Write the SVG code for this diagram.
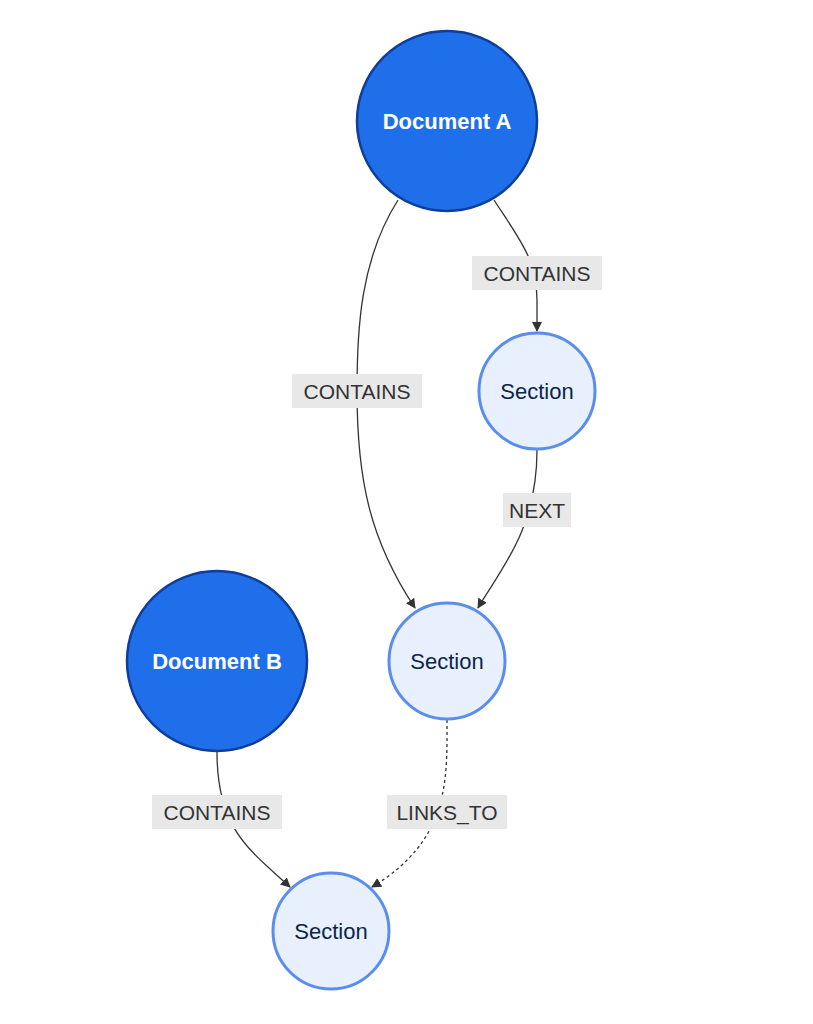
<svg xmlns="http://www.w3.org/2000/svg" width="813" height="1024" viewBox="0 0 813 1024">
<style>
.doc{fill:#1f6feb;stroke:#0f3d99;stroke-width:2.5}
.sec{fill:#e8f0fe;stroke:#5b8def;stroke-width:3}
.dt{font-family:"Liberation Sans",Arial,sans-serif;font-size:22px;font-weight:bold;fill:#fff;text-anchor:middle;dominant-baseline:central}
.st{font-family:"Liberation Sans",Arial,sans-serif;font-size:22px;fill:#0d2547;text-anchor:middle;dominant-baseline:central}
.e{fill:none;stroke:#333;stroke-width:1.3}
.lb{fill:#e8e8e8}
.lt{font-family:"Liberation Sans",Arial,sans-serif;font-size:21px;fill:#333;text-anchor:middle;dominant-baseline:central}
</style>
<defs><marker id="a" viewBox="0 0 10 10" refX="9" refY="5" markerWidth="10" markerHeight="10" markerUnits="userSpaceOnUse" orient="auto"><path d="M0,0L10,5L0,10z" fill="#333"/></marker></defs>
<g id="edges">
<path class="e" d="M398,200 C360,260 357,330 357,391 C357,480 370,540 415,608" marker-end="url(#a)"/>
<path class="e" d="M494,200 C520,240 537,260 537,300 L537,331" marker-end="url(#a)"/>
<path class="e" d="M537,450 C537,530 500,570 478,608" marker-end="url(#a)"/>
<path class="e" d="M447,720 C447,780 450,840 372,887" stroke-dasharray="3,3" marker-end="url(#a)"/>
<path class="e" d="M217,752 C217,830 250,850 290,887" marker-end="url(#a)"/>
<rect class="lb" x="472" y="256" width="130" height="34"/><text class="lt" x="537" y="273">CONTAINS</text>
<rect class="lb" x="292" y="374" width="130" height="34"/><text class="lt" x="357" y="391">CONTAINS</text>
<rect class="lb" x="503" y="493" width="68" height="34"/><text class="lt" x="537" y="510">NEXT</text>
<rect class="lb" x="387" y="795" width="120" height="34"/><text class="lt" x="447" y="812">LINKS_TO</text>
<rect class="lb" x="152" y="795" width="130" height="34"/><text class="lt" x="217" y="812">CONTAINS</text>
</g>
<g id="docA"><circle class="doc" cx="447" cy="121" r="90"/><text class="dt" x="447" y="121">Document A</text></g>
<g id="docB"><circle class="doc" cx="217" cy="661" r="90"/><text class="dt" x="217" y="661">Document B</text></g>
<g id="sec1"><circle class="sec" cx="537" cy="391" r="58"/><text class="st" x="537" y="391">Section</text></g>
<g id="sec2"><circle class="sec" cx="447" cy="661" r="58"/><text class="st" x="447" y="661">Section</text></g>
<g id="sec3"><circle class="sec" cx="331" cy="931" r="58"/><text class="st" x="331" y="931">Section</text></g>
</svg>
